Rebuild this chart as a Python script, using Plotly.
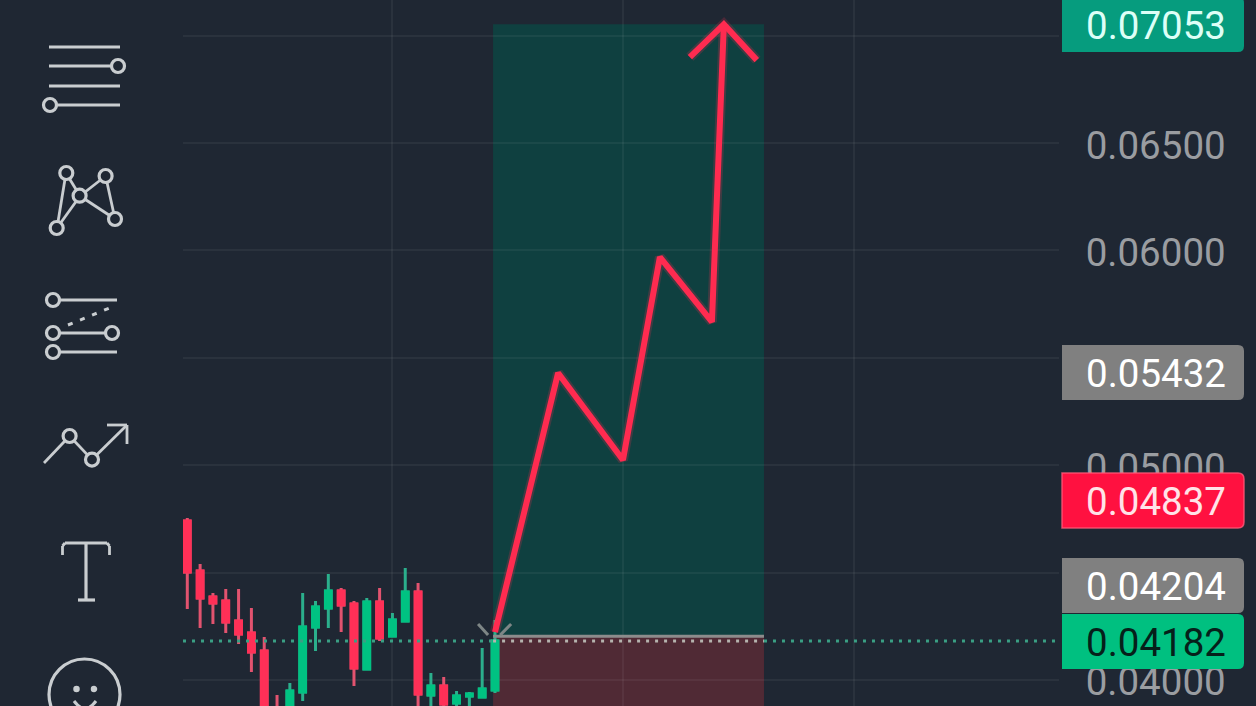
import plotly.graph_objects as go

# ---------- data ----------
candle_index = list(range(25))
open_prices = [0.04740, 0.04507, 0.04386, 0.04368, 0.04275, 0.04219, 0.04135, 0.03860, 0.03830, 0.03944, 0.04247, 0.04335, 0.04414,
               0.04354, 0.04051, 0.04363, 0.04205, 0.04275, 0.04410, 0.03930, 0.03972, 0.03893, 0.03926, 0.03921, 0.03953]
high_prices = [0.04754, 0.04540, 0.04405, 0.04424, 0.04424, 0.04335, 0.04200, 0.03930, 0.03986, 0.04405, 0.04368, 0.04493, 0.04428,
               0.04368, 0.04382, 0.04428, 0.04312, 0.04521, 0.04452, 0.04033, 0.04014, 0.03949, 0.03944, 0.04149, 0.04279]
low_prices = [0.04331, 0.04242, 0.04261, 0.04219, 0.04168, 0.04037, 0.03790, 0.03740, 0.03790, 0.03902, 0.04135, 0.04242, 0.04223,
              0.03972, 0.04051, 0.04182, 0.04205, 0.04270, 0.03790, 0.03820, 0.03840, 0.03830, 0.03840, 0.03921, 0.03940]
close_prices = [0.04503, 0.04382, 0.04358, 0.04270, 0.04214, 0.04130, 0.03814, 0.03780, 0.03949, 0.04247, 0.04340, 0.04414, 0.04349,
                0.04056, 0.04363, 0.04196, 0.04279, 0.04410, 0.03935, 0.03972, 0.03888, 0.03926, 0.03935, 0.03958, 0.04182]

path_x = [24.0, 28.92, 33.98, 36.86, 40.92, 41.85]
path_y = [0.04223, 0.05429, 0.05024, 0.05969, 0.05667, 0.07053]
head_x = [39.2, 41.85, 44.42]
head_y = [0.06900, 0.07053, 0.06886]

tick_values = [0.040, 0.045, 0.050, 0.055, 0.060, 0.065, 0.070]
tick_labels = ["0.04000", "0.04500", "0.05000", "0.05500", "0.06000", "0.06500", "0.07000"]
grid_x = [16, 34, 52]

zone_x = [23.85, 44.98]
target_price = 0.07053
entry_price = 0.04204
last_price = 0.04182
badge_labels = ["0.07053", "0.05432", "0.04837", "0.04204", "0.04182"]

# ---------- styles ----------
BG = "#1F2733"
GRID = "rgba(255,255,255,0.05)"
RED = "#FF3057"
GREEN = "#00C282"
RED_WICK = "#E2536F"
GREEN_WICK = "#2BAF8C"
ICON = "#C9CDD0"
W, H = 1256, 706
L_M, R_M = 183, 197
PW = W - L_M - R_M

def px(x):
    return (x - L_M) / PW

def py(y):
    return 1 - y / H

shapes = []

def seg(x0, y0, x1, y1, width=3.2, dash=None):
    line = dict(color=ICON, width=width)
    if dash:
        line["dash"] = dash
    shapes.append(dict(type="line", xref="paper", yref="paper", x0=px(x0), y0=py(y0), x1=px(x1), y1=py(y1),
                       line=line, layer="above"))

def ring(cx, cy, r=6.5, width=3.2, fill=BG):
    shapes.append(dict(type="circle", xref="paper", yref="paper", x0=px(cx - r), x1=px(cx + r),
                       y0=py(cy + r), y1=py(cy - r), line=dict(color=ICON, width=width),
                       fillcolor=fill, layer="above"))

# icon 1
seg(49, 47, 120, 47); seg(49, 66, 115, 66); seg(49, 86, 120, 86); seg(50, 105, 120, 105)
ring(118, 66); ring(50, 105)
# icon 2
for a, b in [((66, 173), (57, 228)), ((66, 173), (80, 196)), ((57, 228), (80, 196)),
             ((80, 196), (105.6, 176)), ((80, 196), (115, 219)), ((105.6, 176), (115, 219))]:
    seg(a[0], a[1], b[0], b[1], 2.8)
for c in [(66.3, 173), (105.6, 176), (79.6, 195.7), (115, 219), (56.7, 228)]:
    ring(c[0], c[1])
# icon 3
seg(53, 300, 117, 300); seg(53, 333, 112, 333); seg(53, 352, 117, 352)
seg(68, 325, 112, 307, 3, "5px,8px")
for c in [(53, 300), (53, 333), (112, 333), (53, 352)]:
    ring(c[0], c[1])
# icon 4
seg(44, 463, 69.6, 436, 2.8); seg(69.6, 436, 92, 459.6, 2.8); seg(92, 459.6, 127, 425, 2.8)
seg(107, 425, 127, 425, 2.8); seg(127, 425, 127, 444, 2.8)
ring(69.6, 436); ring(92, 459.6)
# icon 5
seg(65, 543, 107, 543, 2.8); seg(62.5, 546, 62.5, 555, 2.8); seg(109.5, 546, 109.5, 555, 2.8)
seg(86, 543, 86, 600, 3.2); seg(78, 600, 95, 600, 3.2)
seg(62.5, 546, 65, 543, 2.8); seg(107, 543, 109.5, 546, 2.8)
# icon 6
ring(84.5, 694.5, 35.5, 3.2, "rgba(0,0,0,0)")
ring(76.5, 689, 2.5, 1.5, ICON); ring(94, 689, 2.5, 1.5, ICON)
shapes.append(dict(type="path", xref="paper", yref="paper",
                   path=f"M {px(74)} {py(701)} Q {px(85)} {py(716)} {px(96)} {py(701)}",
                   line=dict(color=ICON, width=3), layer="above"))

# price zones
shapes.append(dict(type="rect", xref="x", yref="y", x0=zone_x[0], x1=zone_x[1], y0=entry_price, y1=target_price,
                   fillcolor="rgba(0,89,78,0.5)", line_width=0, layer="below"))
shapes.append(dict(type="rect", xref="x", yref="y", x0=zone_x[0], x1=zone_x[1], y0=0.03, y1=entry_price,
                   fillcolor="rgba(129,45,55,0.5)", line_width=0, layer="below"))

# badges (top px, bottom px, fill, edge, text colour)
badge_boxes = [(-3, 52, "#069C7E", None, "#DDFFF7"), (345, 400, "#808080", None, "#FFFFFF"),
               (473, 528, "#FF1140", "rgba(255,90,120,0.8)", "#FFE3E8"),
               (558, 613, "#808080", None, "#FFFFFF"), (614, 669, "#00C080", None, "#06201A")]
annotations = []
for (top, bot, fill, edge, tcol), label in zip(badge_boxes, badge_labels):
    xa, xb, r = 1062, 1244, 6
    path = (f"M {px(xa)} {py(top)} L {px(xb - r)} {py(top)} Q {px(xb)} {py(top)} {px(xb)} {py(top + r)} "
            f"L {px(xb)} {py(bot - r)} Q {px(xb)} {py(bot)} {px(xb - r)} {py(bot)} L {px(xa)} {py(bot)} Z")
    outline = dict(color=edge, width=1.5) if edge else dict(width=0)
    shapes.append(dict(type="path", xref="paper", yref="paper", path=path, fillcolor=fill, line=outline, layer="above"))
    annotations.append(dict(xref="paper", yref="paper", x=px(1084), y=py((top + bot) / 2), xanchor="left", yanchor="middle",
                            text=label, showarrow=False, font=dict(family="Roboto", size=38.5, color=tcol),
                            yshift=-1))

fig = go.Figure()

# wicks (muted), then bodies on top
fig.add_trace(go.Candlestick(x=candle_index, open=open_prices, high=high_prices, low=low_prices, close=close_prices,
                             whiskerwidth=0,
                             increasing=dict(line=dict(color=GREEN_WICK, width=3), fillcolor=GREEN_WICK),
                             decreasing=dict(line=dict(color=RED_WICK, width=3), fillcolor=RED_WICK),
                             showlegend=False, hoverinfo="skip"))
fig.add_trace(go.Candlestick(x=candle_index, open=open_prices, close=close_prices,
                             high=[max(o, c) for o, c in zip(open_prices, close_prices)],
                             low=[min(o, c) for o, c in zip(open_prices, close_prices)],
                             whiskerwidth=0,
                             increasing=dict(line=dict(color=GREEN, width=3), fillcolor=GREEN),
                             decreasing=dict(line=dict(color=RED, width=3), fillcolor=RED),
                             showlegend=False, hoverinfo="skip"))

# dotted last-price line
dots = dict(width=3, dash="3px,6px")
fig.add_trace(go.Scatter(x=[-0.335, zone_x[0]], y=[last_price] * 2, mode="lines",
                         line=dict(color="#3A9F84", **dots), showlegend=False, hoverinfo="skip"))
fig.add_trace(go.Scatter(x=zone_x, y=[last_price] * 2, mode="lines",
                         line=dict(color="#B5B3AE", **dots), showlegend=False, hoverinfo="skip"))
fig.add_trace(go.Scatter(x=[zone_x[1], 67.99], y=[last_price] * 2, mode="lines",
                         line=dict(color="#3A9F84", **dots), showlegend=False, hoverinfo="skip"))
# entry line
fig.add_trace(go.Scatter(x=zone_x, y=[entry_price] * 2, mode="lines", line=dict(color="#8C8C8C", width=3),
                         showlegend=False, hoverinfo="skip"))
# small grey chevron at entry
fig.add_trace(go.Scatter(x=[22.68, 23.46], y=[0.04261, 0.04209], mode="lines", line=dict(color="#7E8686", width=3),
                         showlegend=False, hoverinfo="skip"))
fig.add_trace(go.Scatter(x=[25.26, 24.4], y=[0.04261, 0.04209], mode="lines", line=dict(color="#7E8686", width=3),
                         showlegend=False, hoverinfo="skip"))
# arrow
for w, c in [(10, "rgba(255,43,80,0.2)"), (6, "#FF2B50")]:
    fig.add_trace(go.Scatter(x=path_x, y=path_y, mode="lines", line=dict(color=c, width=w),
                             showlegend=False, hoverinfo="skip"))
    fig.add_trace(go.Scatter(x=head_x, y=head_y, mode="lines", line=dict(color=c, width=w),
                             showlegend=False, hoverinfo="skip"))

fig.update_layout(
    width=W, height=H, margin=dict(l=L_M, r=R_M, t=0, b=0, pad=0), autosize=False,
    paper_bgcolor=BG, plot_bgcolor=BG, boxgap=0.36, showlegend=False,
    shapes=shapes, annotations=annotations,
    xaxis=dict(range=[-0.335, 67.99], rangeslider=dict(visible=False), tickmode="array", tickvals=grid_x,
               showticklabels=False, ticks="", showgrid=True, gridcolor=GRID, gridwidth=2, zeroline=False, showline=False),
    yaxis=dict(range=[0.03879, 0.07166], side="right", tickmode="array", tickvals=tick_values, ticktext=tick_labels,
               showgrid=True, gridcolor=GRID, gridwidth=2, zeroline=False, showline=False, ticks="outside", ticklen=18,
               tickcolor="rgba(0,0,0,0)", tickfont=dict(family="Roboto", size=38.5, color="#9A9DA1"), automargin=False,
               ticklabelshift=2),
)

fig.write_html("out.html", config=dict(displayModeBar=False),
               post_script="document.body.style.margin='0';document.body.style.background='#1F2733';document.body.style.overflow='hidden';")
